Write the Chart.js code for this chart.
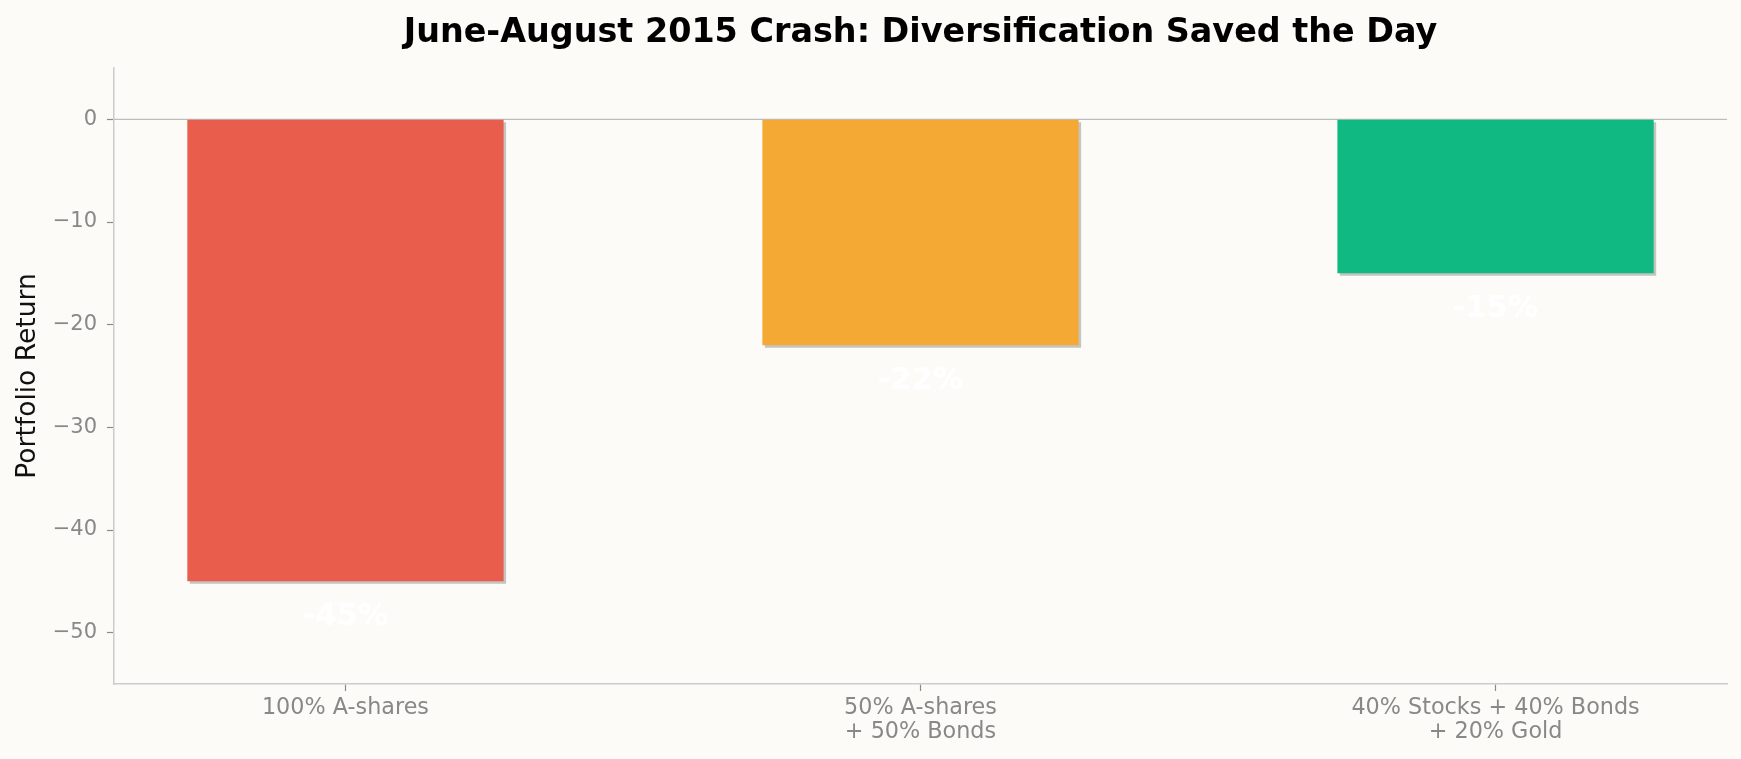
<!DOCTYPE html>
<html>
<head>
<meta charset="utf-8">
<script src="https://cdn.jsdelivr.net/npm/chart.js@4/dist/chart.umd.min.js"></script>
<style>
  html, body { margin: 0; padding: 0; background: #fcfbf7; }
  #wrap { width: 1741px; height: 759px; position: relative; }
</style>
</head>
<body>
<div id="wrap"><canvas id="crashChart"></canvas></div>
<script>
// donnees
const portfolios = [
  ['100% A-shares'],
  ['50% A-shares', '+ 50% Bonds'],
  ['40% Stocks + 40% Bonds', '+ 20% Gold']
];
const returns = [-45, -22, -15];
const barColors = ['#e85d4b', '#f5a935', '#10b981'];
const yTickValues = [-50, -40, -30, -20, -10, 0];
const xTickValues = [0, 1, 2];

const titre = 'June-August 2015 Crash: Diversification Saved the Day';
const fontFamily = '"DejaVu Sans", "Liberation Sans", sans-serif';

// fond, titre, ligne zero, ombres et etiquettes
const decorPlugin = {
  id: 'decor',
  beforeDraw(chart) {
    const ctx = chart.ctx;
    ctx.save();
    ctx.fillStyle = '#fcfbf7';
    ctx.fillRect(0, 0, chart.width, chart.height);
    ctx.restore();
  },
  beforeDatasetsDraw(chart) {
    const ctx = chart.ctx;
    const area = chart.chartArea;
    const y0 = chart.scales.y.getPixelForValue(0);
    ctx.save();
    ctx.strokeStyle = '#bdbdbd';
    ctx.lineWidth = 1.3;
    ctx.beginPath();
    ctx.moveTo(area.left, y0);
    ctx.lineTo(area.right, y0);
    ctx.stroke();
    ctx.restore();
    // ombre des barres
    ctx.save();
    ctx.shadowColor = 'rgba(0, 0, 0, 0.22)';
    ctx.shadowOffsetX = 2.5;
    ctx.shadowOffsetY = 2.5;
    ctx.shadowBlur = 0;
  },
  afterDatasetsDraw(chart) {
    const ctx = chart.ctx;
    ctx.restore();
    const yScale = chart.scales.y;
    const meta = chart.getDatasetMeta(0);
    ctx.save();
    ctx.fillStyle = '#ffffff';
    ctx.font = 'bold 30.5px ' + fontFamily;
    ctx.textAlign = 'center';
    ctx.textBaseline = 'middle';
    meta.data.forEach((bar, i) => {
      const v = returns[i];
      ctx.fillText(v + '%', bar.x, yScale.getPixelForValue(v - 3.45));
    });
    ctx.restore();
  },
  afterDraw(chart) {
    const ctx = chart.ctx;
    const area = chart.chartArea;
    ctx.save();
    ctx.fillStyle = '#000000';
    ctx.font = 'bold 33.4px ' + fontFamily;
    ctx.textAlign = 'center';
    ctx.textBaseline = 'middle';
    ctx.fillText(titre, (area.left + area.right) / 2, 33.5);
    ctx.restore();
  }
};

const ctx = document.getElementById('crashChart').getContext('2d');
new Chart(ctx, {
  type: 'bar',
  data: {
    datasets: [{
      label: 'Portfolio Return',
      data: returns.map((v, i) => ({ x: xTickValues[i], y: v })),
      backgroundColor: barColors,
      borderWidth: 0,
      categoryPercentage: 1,
      barPercentage: 0.55
    }]
  },
  options: {
    responsive: true,
    maintainAspectRatio: false,
    animation: false,
    layout: { padding: { left: 0, right: 14, top: 68, bottom: 0 } },
    plugins: {
      legend: { display: false },
      title: { display: false },
      tooltip: { enabled: false }
    },
    scales: {
      x: {
        type: 'linear',
        min: -0.4025,
        max: 2.4025,
        offset: false,
        afterBuildTicks: scale => { scale.ticks = xTickValues.map(v => ({ value: v })); },
        afterFit: scale => { scale.height = 75; },
        grid: {
          display: true,
          offset: false,
          drawOnChartArea: false,
          drawTicks: true,
          tickLength: 7,
          tickColor: '#8a8a8a',
          tickWidth: 1.2
        },
        border: { display: true, color: '#cccccc', width: 1.5 },
        ticks: {
          color: '#888888',
          padding: 6,
          maxRotation: 0,
          font: { family: fontFamily, size: 22.3, lineHeight: 1.05 },
          callback: v => portfolios[v] || ''
        }
      },
      y: {
        type: 'linear',
        min: -55,
        max: 5,
        afterBuildTicks: scale => { scale.ticks = yTickValues.map(v => ({ value: v })); },
        afterFit: scale => { scale.width = 114; },
        grid: {
          display: true,
          drawOnChartArea: false,
          drawTicks: true,
          tickLength: 7,
          tickColor: '#8a8a8a',
          tickWidth: 1.2
        },
        border: { display: true, color: '#cccccc', width: 1.5 },
        ticks: {
          color: '#888888',
          padding: 10,
          font: { family: fontFamily, size: 21 },
          callback: v => (v < 0 ? '\u2212' + Math.abs(v) : String(v))
        },
        title: {
          display: true,
          text: 'Portfolio Return',
          color: '#111111',
          font: { family: fontFamily, size: 26.5 },
          padding: { top: 12, bottom: 0 }
        }
      }
    }
  },
  plugins: [decorPlugin]
});
</script>
</body>
</html>
